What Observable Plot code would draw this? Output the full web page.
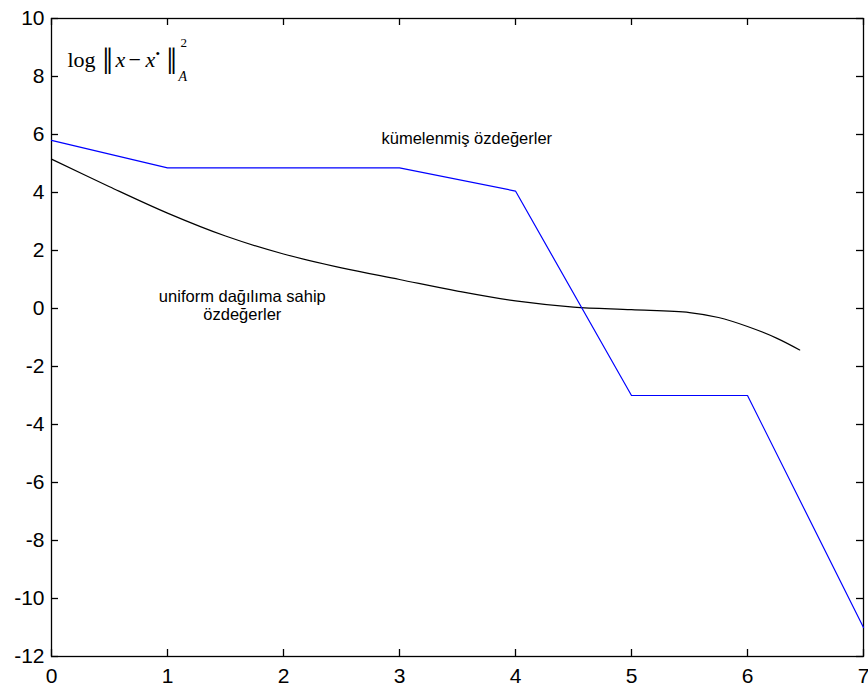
<!DOCTYPE html>
<html>
<head>
<meta charset="utf-8">
<script src="https://cdn.jsdelivr.net/npm/d3@7"></script>
<script src="https://cdn.jsdelivr.net/npm/@observablehq/plot@0.6"></script>
<style>
  body { margin: 0; background: #fff; }
  #chart svg { display: block; }
</style>
</head>
<body>
<div id="chart"></div>
<script>
// Error curve for clustered eigenvalues (piecewise, one step per cluster)
const clusteredIter = [0, 1, 3, 4, 5, 6, 7];
const clusteredErr = [5.8, 4.85, 4.85, 4.05, -3, -3, -11];

// Error curve for uniformly distributed eigenvalues
const uniformIter = [0, 0.5, 1, 1.5, 2, 2.5, 3, 3.5, 4, 4.5, 5, 5.5, 5.75, 6, 6.25, 6.45];
const uniformErr = [5.15, 4.2, 3.29, 2.5, 1.88, 1.4, 1.0, 0.6, 0.26, 0.05, -0.04, -0.14, -0.31, -0.62, -1.02, -1.43];

// Axis ticks
const xTicks = [0, 1, 2, 3, 4, 5, 6, 7];
const yTicks = [-12, -10, -8, -6, -4, -2, 0, 2, 4, 6, 8, 10];

// Curve annotations
const clusteredLabel = "kümelenmiş özdeğerler";
const clusteredLabelAt = [3.58, 5.85];
const uniformLabel = "uniform dağılıma sahip\nözdeğerler";
const uniformLabelAt = [1.645, 0.1];

const W = 868, H = 690;
const M = {top: 18, right: 5, bottom: 34, left: 51};
const frameW = W - M.left - M.right;
const frameH = H - M.top - M.bottom;
const tickLen = 7;

const clustered = clusteredIter.map((x, i) => ({x, y: clusteredErr[i]}));
const uniform = uniformIter.map((x, i) => ({x, y: uniformErr[i]}));

// Pieces of the y-axis formula  log ||x − x*||²_A
const serif = "'Liberation Serif', 'DejaVu Serif', serif";
const formula = [
  {t: "log", x: 67, base: 66, size: 22, italic: false},
  {t: "\u2016", x: 102, base: 73, size: 37, italic: false},
  {t: "x", x: 115, base: 66, size: 22, italic: true},
  {t: "\u2212", x: 128, base: 66, size: 22, italic: false},
  {t: "x", x: 145, base: 66, size: 22, italic: true},
  {t: "\u2022", x: 155, base: 57, size: 13, italic: false},
  {t: "\u2016", x: 166, base: 73, size: 37, italic: false},
  {t: "2", x: 180, base: 46, size: 13, italic: false},
  {t: "A", x: 178, base: 80, size: 14, italic: true}
];

const chart = Plot.plot({
  width: W,
  height: H,
  marginTop: M.top,
  marginRight: M.right,
  marginBottom: M.bottom,
  marginLeft: M.left,
  style: {fontFamily: "'Liberation Sans', Arial, sans-serif", fontSize: "21px", color: "#000", background: "#fff"},
  x: {domain: [0, 7], axis: null},
  y: {domain: [-12, 10], axis: null},
  marks: [
    // inward ticks on all four sides
    Plot.tickX(xTicks, {x: d => d, insetTop: frameH - tickLen, stroke: "#000", strokeWidth: 1.3}),
    Plot.tickX(xTicks, {x: d => d, insetBottom: frameH - tickLen, stroke: "#000", strokeWidth: 1.3}),
    Plot.tickY(yTicks, {y: d => d, insetRight: frameW - tickLen, stroke: "#000", strokeWidth: 1.3}),
    Plot.tickY(yTicks, {y: d => d, insetLeft: frameW - tickLen, stroke: "#000", strokeWidth: 1.3}),
    Plot.axisX(xTicks, {anchor: "bottom", label: null, tickFormat: d => String(d), tickSize: 0, tickPadding: 12, fill: "#000"}),
    Plot.axisY(yTicks, {anchor: "left", label: null, tickFormat: d => String(d), tickSize: 0, tickPadding: 7, fill: "#000"}),
    Plot.frame({stroke: "#000", strokeWidth: 1.3}),
    Plot.line(uniform, {x: "x", y: "y", curve: "catmull-rom", stroke: "#000", strokeWidth: 1.2}),
    Plot.line(clustered, {x: "x", y: "y", stroke: "#0000ff", strokeWidth: 1.2}),
    Plot.text([clusteredLabel], {
      x: () => clusteredLabelAt[0], y: () => clusteredLabelAt[1], text: d => d,
      fontSize: 16.5, fill: "#000", textAnchor: "middle", lineAnchor: "middle"
    }),
    Plot.text([uniformLabel], {
      x: () => uniformLabelAt[0], y: () => uniformLabelAt[1], text: d => d,
      fontSize: 16.5, lineHeight: 1.1, fill: "#000", textAnchor: "middle", lineAnchor: "middle"
    }),
    ...formula.map(p => Plot.text([p.t], {
      frameAnchor: "top-left", text: d => d,
      dx: p.x - M.left, dy: p.base - M.top,
      textAnchor: "start", lineAnchor: "bottom",
      fontSize: p.size, fontFamily: serif, fontStyle: p.italic ? "italic" : "normal",
      fill: "#000"
    }))
  ]
});

document.getElementById("chart").append(chart);
</script>
</body>
</html>
